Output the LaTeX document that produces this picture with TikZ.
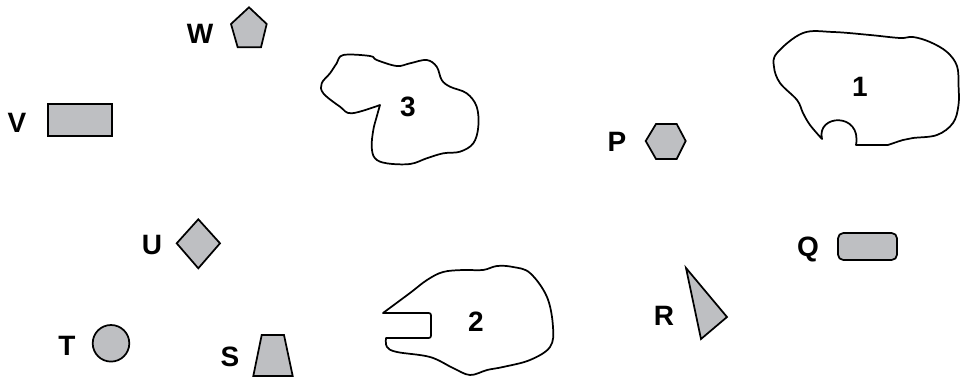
\documentclass[tikz,border=0pt]{standalone}
\usepackage{fontspec}
\setmainfont{Liberation Sans}
\begin{document}
\begin{tikzpicture}[x=0.75pt,y=-0.75pt,
  lbl/.style={font=\fontsize{21}{25}\selectfont\bfseries, inner sep=0pt},
  shp/.style={draw=black, fill=shapefill, line width=1.3pt, line join=miter},
  blob/.style={draw=black, line width=1.3pt, line join=round}]
\definecolor{shapefill}{RGB}{190,191,194}
\useasboundingbox (0,0) rectangle (960,378);
% labels
\node[lbl] (lW) at (200,34) {W};
\node[lbl] (lV) at (17,123) {V};
\node[lbl] (lU) at (152,245) {U};
\node[lbl] (lT) at (67,346) {T};
\node[lbl] (lS) at (230,357) {S};
\node[lbl] (lP) at (617,142) {P};
\node[lbl] (lQ) at (808,249) {Q};
\node[lbl] (lR) at (664,316) {R};
\node[lbl] (l3) at (408,107) {3};
\node[lbl] (l1) at (860,87) {1};
\node[lbl] (l2) at (476,322) {2};
% shapes
\draw[shp] (249,7.3) -- (266.7,24) -- (261,47.3) -- (237.7,47.3) -- (231,24) -- cycle;
\draw[shp] (48,104) rectangle (112,136);
\draw[shp] (176.7,243.3) -- (198.3,219.3) -- (220,243.3) -- (198.3,268.3) -- cycle;
\draw[shp] (111,343.3) circle[radius=18.3];
\draw[shp] (253.3,376) -- (292.7,376) -- (284,335) -- (261.7,335) -- cycle;
\draw[shp] (645.7,141) -- (656,124) -- (676.7,124) -- (685.7,141) -- (676.7,159) -- (656,159) -- cycle;
\draw[shp, rounded corners=4pt] (838,233) rectangle (897,260);
\draw[shp] (686,268) -- (727,317) -- (701,339) -- cycle;
% blob 3
\draw[blob] plot[smooth, tension=0.6] coordinates {(380,105) (376.7,116.7) (373.3,130) (371.7,146.7) (375,158.3) (386.7,163.3) (410,164) (426.7,158.3) (443.3,153.3) (460,151.7) (473.3,143.3) (478.3,126.7) (476.7,106.7) (466.7,93.3) (450,86.7) (441.7,80) (436.7,66.7) (426.7,60) (410,63.3) (396.7,66) (376.7,60) (370,56) (343.3,55) (336.7,63.3) (330,73.3) (321.7,83.3) (323.3,93.3) (340,106.7) (351.7,113.3) (380,105)} -- cycle;
% blob 1
\draw[blob] (822,139) .. controls (816,114) and (862,112) .. (856,145) -- (888,145)
  -- plot[smooth, tension=0.6] coordinates {(888,145) (903,140) (913,138) (937,135) (953,123) (958.5,105) (958.5,85) (957,66) (947,52) (930,42) (913,37) (900,38) (870,35) (833,32) (803,33) (777,53) (774,67) (780,83) (797,100) (803,113) (810,125) (822,139)} -- cycle;
% blob 2
\draw[blob] (383,313) -- (426,313) .. controls (431,313) and (431,313) .. (431,318) -- (431,333)
  .. controls (431,338) and (431,338) .. (426,338) -- (386,338)
  -- plot[smooth, tension=0.6] coordinates {(386,338) (387,347) (397,352) (430,357) (453,368) (470,375) (487,370) (503,367) (530,360) (550,347) (553,327) (547,297) (530,273) (513,267) (497,266) (483,270) (463,270) (443,272) (427,280) (410,293) (383,313)} -- cycle;
\end{tikzpicture}
\end{document}
